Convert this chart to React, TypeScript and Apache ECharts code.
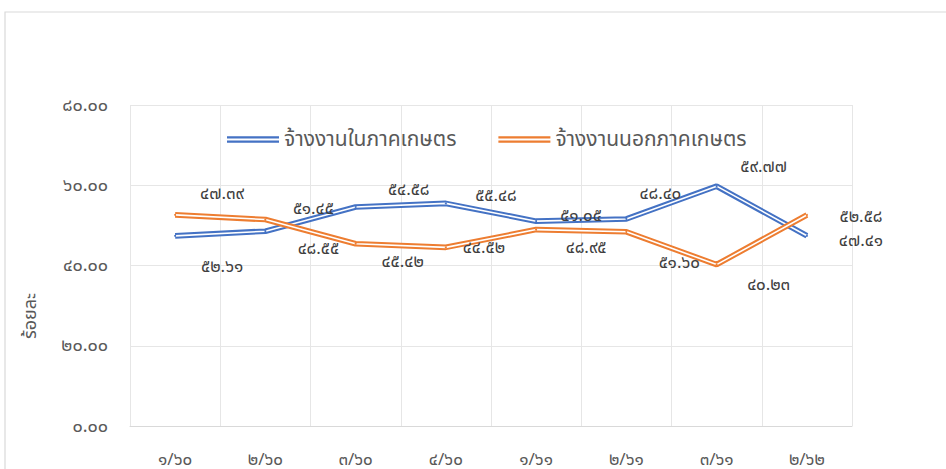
import React, { useEffect, useRef } from "react";
import * as echarts from "echarts";

const categories = ["๑/๖๐", "๒/๖๐", "๓/๖๐", "๔/๖๐", "๑/๖๑", "๒/๖๑", "๓/๖๑", "๒/๖๒"];
const inAgriName = "จ้างงานในภาคเกษตร";
const outAgriName = "จ้างงานนอกภาคเกษตร";
const inAgri = [47.39, 48.55, 54.58, 55.48, 51.05, 51.6, 59.77, 47.41];
const outAgri = [52.61, 51.45, 45.42, 44.52, 48.95, 48.4, 40.23, 52.58];
const yAxisTitle = "ร้อยละ";

// label placement (style only)
const inOffsets = [[47, -42], [53, 18], [53, -17], [50, -7], [45, -5], [53, 44], [47, -19], [54, 5]];
const outOffsets = [[47, 52], [48, -11], [47, 18], [38, 1], [50, 18], [34, -38], [52, 20], [54, 2]];

const THAI = "๐๑๒๓๔๕๖๗๘๙";
const toThai = (s: string) => s.replace(/[0-9]/g, (d) => THAI[Number(d)]);

const BLUE = "#4472C4";
const ORANGE = "#ED7D31";
const FONT = "'Noto Sans Thai', 'Leelawadee UI', Tahoma, 'Noto Sans', sans-serif";
const ICON = "path://M0,0H52V2.2H0Z M0,4.4H52V6.6H0Z";

export default function App() {
  const ref = useRef<HTMLDivElement>(null);
  useEffect(() => {
    const chart = echarts.init(ref.current!, undefined, { renderer: "svg" });
    const makeOuter = (name: string, vals: number[], offs: number[][], color: string) => ({
      name,
      type: "line",
      data: vals.map((v, i) => ({ value: v, label: { offset: offs[i] } })),
      symbol: "circle",
      symbolSize: 2,
      itemStyle: { color },
      lineStyle: { color, width: 5.6 },
      label: {
        show: true,
        position: "inside",
        color: "#404040",
        fontSize: 17,
        lineHeight: 18,
        fontFamily: FONT,
        formatter: (p: any) => toThai(Number(p.value).toFixed(2)),
      },
      emphasis: { disabled: true },
      z: 2,
    });
    const makeInner = (vals: number[]) => ({
      name: "_inner",
      type: "line",
      data: vals,
      symbol: "none",
      silent: true,
      lineStyle: { color: "#ffffff", width: 1.6 },
      itemStyle: { color: "#ffffff" },
      emphasis: { disabled: true },
      z: 2,
    });
    chart.setOption({
      animation: false,
      textStyle: { fontFamily: FONT },
      grid: { left: 130, right: 94, top: 105, bottom: 42, containLabel: false },
      legend: {
        top: 124,
        left: 222,
        itemWidth: 52,
        itemHeight: 7,
        itemGap: 42,
        textStyle: { color: "#595959", fontSize: 21, fontFamily: FONT },
        data: [
          { name: inAgriName, icon: ICON, itemStyle: { color: BLUE } },
          { name: outAgriName, icon: ICON, itemStyle: { color: ORANGE } },
        ],
      },
      xAxis: {
        type: "category",
        data: categories,
        boundaryGap: true,
        axisLine: { lineStyle: { color: "#d9d9d9" } },
        axisTick: { show: false },
        axisLabel: { color: "#595959", fontSize: 17, lineHeight: 18, margin: 25, fontFamily: FONT },
        splitLine: { show: true, lineStyle: { color: "#e6e6e6" } },
      },
      yAxis: {
        type: "value",
        min: 0,
        max: 80,
        interval: 20,
        axisLine: { show: false },
        axisTick: { show: false },
        axisLabel: {
          color: "#595959",
          fontSize: 18,
          margin: 22,
          fontFamily: FONT,
          formatter: (v: number) => toThai(v.toFixed(2)),
        },
        splitLine: { lineStyle: { color: "#e6e6e6" } },
      },
      graphic: [
        {
          type: "rect",
          shape: { x: 5, y: 12, width: 960, height: 480 },
          style: { fill: "none", stroke: "#d9d9d9", lineWidth: 1.2 },
          silent: true,
        },
        {
          type: "text",
          x: 30,
          y: 316,
          rotation: Math.PI / 2,
          style: {
            text: yAxisTitle,
            fill: "#595959",
            fontSize: 18,
            fontFamily: FONT,
            align: "center",
            verticalAlign: "middle",
          },
          silent: true,
        },
      ],
      series: [
        makeOuter(inAgriName, inAgri, inOffsets, BLUE),
        makeInner(inAgri),
        makeOuter(outAgriName, outAgri, outOffsets, ORANGE),
        makeInner(outAgri),
      ],
    });
    return () => chart.dispose();
  }, []);
  return (
    <div
      ref={ref}
      style={{ position: "fixed", left: 0, top: 0, width: 946, height: 469, background: "#ffffff" }}
    />
  );
}
